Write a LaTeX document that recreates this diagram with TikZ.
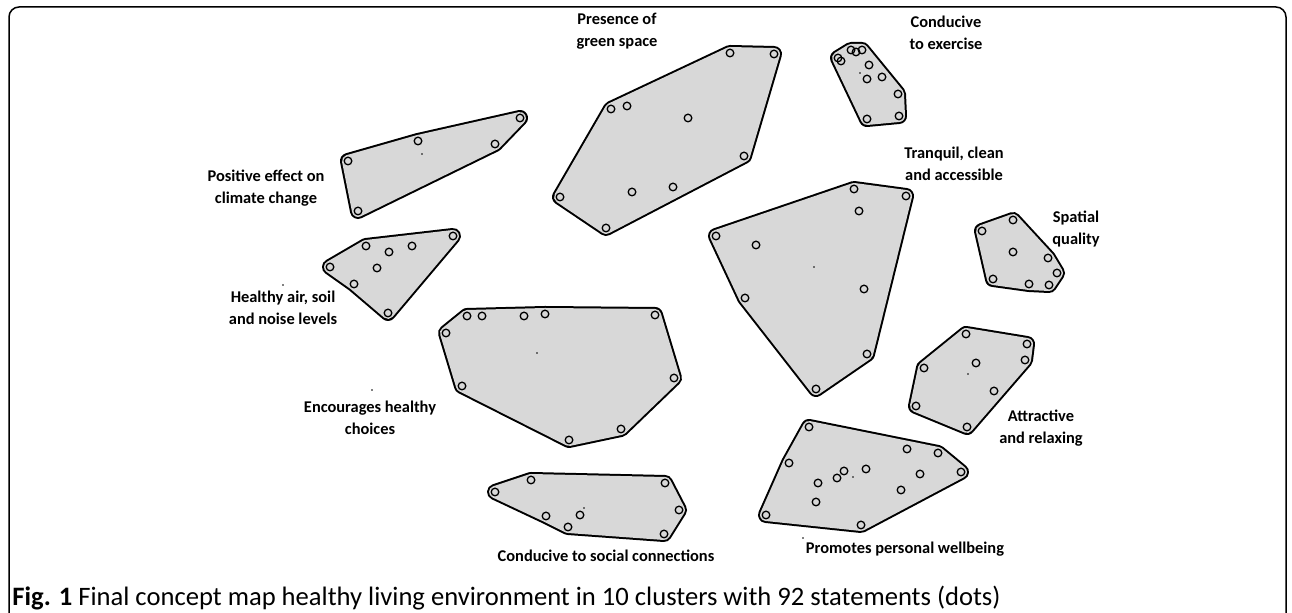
\documentclass[tikz,border=0pt]{standalone}
\usepackage{fontspec}
\setmainfont{Carlito}
\usetikzlibrary{backgrounds}
\definecolor{clgray}{RGB}{216,216,216}
\tikzset{
  stmt/.style={circle, draw, line width=0.65pt, inner sep=0pt, minimum size=3.8pt},
  cdot/.style={circle, fill, inner sep=0pt, minimum size=0.9pt},
  hull/.style={fill=clgray, draw=clgray, line width=6pt, line join=round,
    preaction={draw=black, line width=8pt, line join=round}},
  lbl/.style={font=\fontsize{8.2}{10.8}\selectfont\bfseries, align=center},
}

\begin{document}
\begin{tikzpicture}[x=0.5pt, y=-0.5pt]
    \useasboundingbox (0,0) rectangle (1292,613);
    \draw[line width=0.75pt, rounded corners=5pt] (9,7) rectangle (1286,625);

    % set up the statements of each cluster (hull points first)
    \foreach \p [count=\i] in {(611,109),(730,53),(774,54),(744,156),(606,228),(560,197),(627,106),(688,118),(632,192),(673,187)}
      \node[stmt] (gs\i) at \p {};
    \foreach \p [count=\i] in {(838,58),(851,50),(862,50),(898,94),(899,116),(867,119),(841,61),(856,52),(869,65),(867,79),(882,77)}
      \node[stmt] (ex\i) at \p {};
    \foreach \p [count=\i] in {(348,161),(418,141),(520,118),(495,144),(358,211)}
      \node[stmt] (cc\i) at \p {};
    \foreach \p [count=\i] in {(330,267),(366,246),(453,236),(388,313),(354,284),(389,252),(412,246),(377,268)}
      \node[stmt] (air\i) at \p {};
    \foreach \p [count=\i] in {(716,236),(854,189),(906,196),(867,354),(816,389),(745,298),(859,211),(756,245),(864,289)}
      \node[stmt] (tq\i) at \p {};
    \foreach \p [count=\i] in {(982,231),(1013,220),(1048,258),(1057,273),(1049,285),(1029,284),(993,279),(1013,252)}
      \node[stmt] (sq\i) at \p {};
    \foreach \p [count=\i] in {(446,333),(467,316),(545,314),(655,315),(674,378),(621,429),(569,440),(462,386),(482,316),(524,316)}
      \node[stmt] (hc\i) at \p {};
    \foreach \p [count=\i] in {(924,368),(966,334),(1027,344),(1025,360),(967,427),(916,406),(976,363),(994,391)}
      \node[stmt] (ar\i) at \p {};
    \foreach \p [count=\i] in {(766,515),(789,463),(809,427),(938,453),(961,472),(861,525),(907,449),(844,471),(837,478),(866,469),(920,474),(818,483),(901,490),(816,502)}
      \node[stmt] (pw\i) at \p {};
    \foreach \p [count=\i] in {(495,492),(531,480),(665,483),(679,510),(664,534),(568,527),(546,516),(580,515)}
      \node[stmt] (sc\i) at \p {};

    % small centre dots
    \foreach \p [count=\i] in {(422,154),(860,73),(814,267),(968,374),(853,477),(584,508),(537,353),(283,285),(803,538),(372,390)}
      \node[cdot] (d\i) at \p {};

    % draw the cluster outlines behind the statements
    \begin{scope}[on background layer]
      \path[hull] (gs1.center) -- (gs2.center) -- (gs3.center) -- (gs4.center) -- (gs5.center) -- (gs6.center) -- cycle;
      \path[hull] (ex1.center) -- (ex2.center) -- (ex3.center) -- (ex4.center) -- (ex5.center) -- (ex6.center) -- cycle;
      \path[hull] (cc1.center) -- (cc2.center) -- (cc3.center) -- (cc4.center) -- (cc5.center) -- cycle;
      \path[hull] (air1.center) -- (air2.center) -- (air3.center) -- (air4.center) -- (air5.center) -- cycle;
      \path[hull] (tq1.center) -- (tq2.center) -- (tq3.center) -- (tq4.center) -- (tq5.center) -- (tq6.center) -- cycle;
      \path[hull] (sq1.center) -- (sq2.center) -- (sq3.center) -- (sq4.center) -- (sq5.center) -- (sq6.center) -- (sq7.center) -- cycle;
      \path[hull] (hc1.center) -- (hc2.center) -- (hc3.center) -- (hc4.center) -- (hc5.center) -- (hc6.center) -- (hc7.center) -- (hc8.center) -- cycle;
      \path[hull] (ar1.center) -- (ar2.center) -- (ar3.center) -- (ar4.center) -- (ar5.center) -- (ar6.center) -- cycle;
      \path[hull] (pw1.center) -- (pw2.center) -- (pw3.center) -- (pw4.center) -- (pw5.center) -- (pw6.center) -- cycle;
      \path[hull] (sc1.center) -- (sc2.center) -- (sc3.center) -- (sc4.center) -- (sc5.center) -- (sc6.center) -- (sc7.center) -- cycle;
    \end{scope}

    % cluster names
    \node[lbl] (gsl) at (617,31) {Presence of\\green space};
    \node[lbl] (exl) at (946,33) {Conducive\\to exercise};
    \node[lbl] (ccl) at (266,188) {Positive effect on\\climate change};
    \node[lbl] (airl) at (283,308) {Healthy air, soil\\and noise levels};
    \node[lbl] (tql) at (954,164) {Tranquil, clean\\and accessible};
    \node[lbl] (sql) at (1076,229) {Spatial\\quality};
    \node[lbl] (hcl) at (370,418) {Encourages healthy\\choices};
    \node[lbl] (arl) at (1041,428) {Attractive\\and relaxing};
    \node[lbl] (pwl) at (905,549) {Promotes personal wellbeing};
    \node[lbl] (scl) at (606,556) {Conducive to social connections};

    % caption
    \node[anchor=west, font=\fontsize{13.3}{15}\selectfont, inner sep=0pt] (cap) at (12,598)
      {\textbf{Fig. 1} Final concept map healthy living environment in 10 clusters with 92 statements (dots)};
\end{tikzpicture}
\end{document}
